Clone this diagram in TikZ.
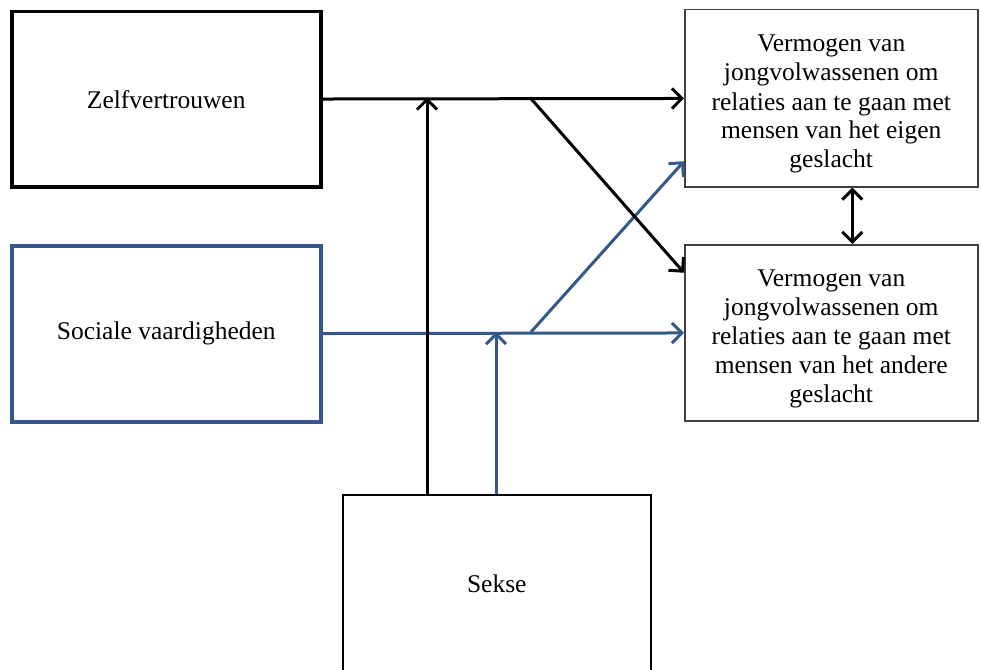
\documentclass[tikz,border=0pt]{standalone}
\usepackage{fontspec}
\setmainfont{Liberation Serif}
\usetikzlibrary{arrows.meta}
\definecolor{modBlue}{RGB}{52,88,138}
\definecolor{boxGray}{RGB}{64,64,64}
\begin{document}
\begin{tikzpicture}
[x=1pt,y=-1pt,
  arrowDecorate/.style={->,>={Straight Barb[length=10pt,width=20pt]},line width=3pt},%
  nodeDecorate/.style={shape=rectangle,draw,anchor=north west,align=center,inner sep=0pt},%
  font=\fontsize{25.5}{29}\selectfont]
\clip (0,0) rectangle (982,669);
%% nodes or boxes
\node (zelf) at (10,10) [nodeDecorate,line width=3.5pt,minimum width=309pt,minimum height=175pt] {Zelfvertrouwen};
\node (sociaal) at (10,244) [nodeDecorate,draw=modBlue,line width=3.5pt,minimum width=309pt,minimum height=176pt] {Sociale vaardigheden};
\node (eigen) at (684,9) [nodeDecorate,draw=boxGray,line width=1.5pt,minimum width=293pt,minimum height=177pt]
  {\rule{0pt}{29pt}Vermogen van\\jongvolwassenen om\\relaties aan te gaan met\\mensen van het eigen\\geslacht};
\node (ander) at (684,244) [nodeDecorate,draw=boxGray,line width=1.5pt,minimum width=293pt,minimum height=176pt]
  {\rule{0pt}{29pt}Vermogen van\\jongvolwassenen om\\relaties aan te gaan met\\mensen van het andere\\geslacht};
\node (sekse) at (342,494) [nodeDecorate,line width=1.5pt,minimum width=308pt,minimum height=178pt] {Sekse};
%% junctions
\coordinate (zjoin) at (427,97.5);
\coordinate (zsplit) at (530,97.5);
\coordinate (sjoin) at (496,332);
\coordinate (ssplit) at (531,332);
%% edges or lines
\draw[arrowDecorate,modBlue] (sociaal) -- (ander);
\draw[arrowDecorate,modBlue] (ssplit) -- ([yshift=-63pt]eigen.west);
\draw[arrowDecorate,modBlue] (sjoin |- sekse.north) -- (sjoin);
\draw[arrowDecorate] (zelf) -- (eigen);
\draw[arrowDecorate] (zsplit) -- ([yshift=60pt]ander.west);
\draw[arrowDecorate] (zjoin |- sekse.north) -- (zjoin);
\draw[arrowDecorate,<->] ([xshift=21pt]eigen.south) -- ([xshift=21pt]ander.north);
\end{tikzpicture}
\end{document}
